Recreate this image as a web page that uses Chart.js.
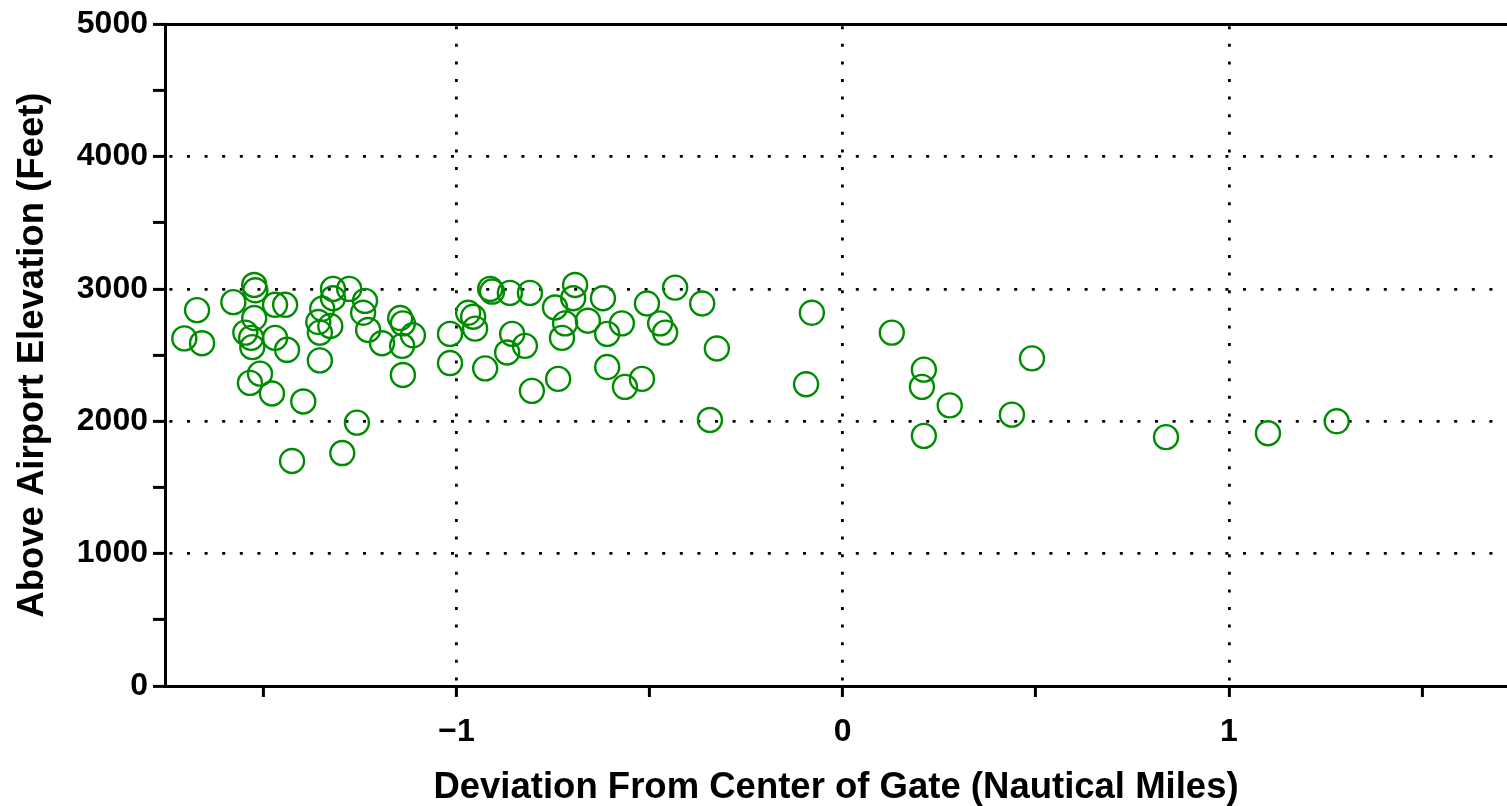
<!DOCTYPE html>
<html>
<head>
<meta charset="utf-8">
<script src="https://cdn.jsdelivr.net/npm/chart.js@4/dist/chart.umd.min.js"></script>
<style>
  html, body { margin: 0; padding: 0; background: #fff; overflow: hidden; }
  #wrap { width: 1507px; height: 806px; }
</style>
</head>
<body>
<div id="wrap"><canvas id="c"></canvas></div>
<script>
// deviation from gate centre (nautical miles)
const deviation = [
  -1.705, -1.672, -1.659, -1.578, -1.524, -1.521, -1.524, -1.547, -1.532, -1.529,
  -1.470, -1.444, -1.470, -1.439, -1.509, -1.535, -1.478, -1.397, -1.426,
  -1.320, -1.278, -1.348, -1.320, -1.358, -1.327, -1.354, -1.354, -1.237, -1.242,
  -1.229, -1.193, -1.146, -1.139, -1.113, -1.141, -1.139, -1.258, -1.296,
  -0.913, -0.908, -0.862, -0.810, -0.970, -0.957, -0.952, -1.017, -0.856, -0.869,
  -0.823, -1.017, -0.926, -0.805, -0.737, -0.745, -0.719, -0.727,
  -0.693, -0.698, -0.621, -0.660, -0.610, -0.572, -0.507, -0.473, -0.460, -0.434,
  -0.364, -0.326, -0.610, -0.564, -0.520,
  -0.344, -0.080, -0.095, 0.127, 0.210, 0.205, 0.277, 0.210, 0.490, 0.438,
  0.837, 1.101, 1.279
];
// height above airport elevation (feet)
const elevation = [
  2626, 2840, 2590, 2900, 3030, 2990, 2780, 2670, 2630, 2560,
  2880, 2880, 2630, 2540, 2360, 2290, 2210, 2150, 1700,
  3000, 3000, 2850, 2930, 2750, 2720, 2670, 2460, 2910, 2820,
  2690, 2590, 2780, 2740, 2650, 2570, 2350, 1990, 1760,
  3000, 2980, 2970, 2970, 2820, 2790, 2700, 2660, 2660, 2520,
  2570, 2440, 2400, 2230, 2320, 2860, 2740, 2630,
  3030, 2930, 2930, 2760, 2660, 2740, 2890, 2740, 2670, 3010,
  2890, 2550, 2410, 2260, 2320,
  2010, 2820, 2280, 2670, 2390, 2260, 2120, 1890, 2475, 2050,
  1880, 1910, 2000
];

const xTicks = [-1.5, -1, -0.5, 0, 0.5, 1, 1.5];
const xLabels = ['', '\u22121', '', '0', '', '1', ''];
const yTicks = [0, 500, 1000, 1500, 2000, 2500, 3000, 3500, 4000, 4500, 5000];
const yLabels = ['0', '', '1000', '', '2000', '', '3000', '', '4000', '', '5000'];

const FONT = 'Liberation Sans, Arial, Helvetica, sans-serif';
const GREEN = '#008c00';

const points = deviation.map((d, i) => ({ x: d, y: elevation[i] }));

new Chart(document.getElementById('c'), {
  type: 'scatter',
  data: {
    datasets: [{
      data: points,
      pointStyle: 'circle',
      pointRadius: 12,
      pointHoverRadius: 12,
      pointBorderWidth: 2.4,
      borderColor: GREEN,
      backgroundColor: 'rgba(0,0,0,0)'
    }]
  },
  options: {
    responsive: true,
    maintainAspectRatio: false,
    animation: false,
    events: [],
    layout: { autoPadding: false, padding: { top: 24, right: 0, bottom: 0, left: 0 } },
    plugins: { legend: { display: false }, tooltip: { enabled: false } },
    scales: {
      x: {
        type: 'linear',
        position: 'bottom',
        min: -1.755,
        max: 1.72,
        afterBuildTicks: s => { s.ticks = xTicks.map(v => ({ value: v })); },
        afterFit: s => { s.height = 120; s.paddingRight = 0; },
        border: { display: true, color: '#000', width: 3, dash: [3, 14.6], dashOffset: 15.6 },
        grid: {
          color: c => (c.tick && Number.isInteger(c.tick.value)) ? '#000' : 'rgba(0,0,0,0)',
          lineWidth: 2.8,
          drawTicks: true,
          tickLength: 11,
          tickColor: '#000',
          tickWidth: 3,
          tickBorderDash: []
        },
        ticks: {
          autoSkip: false,
          maxRotation: 0,
          padding: 16,
          color: '#000',
          font: { family: FONT, weight: 'bold', size: 32 },
          callback: (v, i) => xLabels[i]
        },
        title: {
          display: true,
          text: 'Deviation From Center of Gate (Nautical Miles)',
          color: '#000',
          font: { family: FONT, weight: 'bold', size: 36.5, lineHeight: 1.0 },
          padding: { top: 0, bottom: 0 }
        }
      },
      xTop: {
        type: 'linear',
        position: 'top',
        min: -1.755,
        max: 1.72,
        afterBuildTicks: s => { s.ticks = []; },
        afterFit: s => { s.height = 0; s.paddingLeft = 0; s.paddingRight = 0; },
        border: { display: true, color: '#000', width: 3 },
        grid: { display: false, drawTicks: false },
        ticks: { display: false }
      },
      y: {
        type: 'linear',
        min: 0,
        max: 5000,
        afterBuildTicks: s => { s.ticks = yTicks.map(v => ({ value: v })); },
        afterFit: s => { s.width = 165; },
        border: { display: true, color: '#000', width: 3, dash: [3, 14.6], dashOffset: 15.2 },
        grid: {
          color: c => (c.tick && c.tick.value % 1000 === 0 && c.tick.value > 0 && c.tick.value < 5000) ? '#000' : 'rgba(0,0,0,0)',
          lineWidth: 2.8,
          drawTicks: true,
          tickLength: 12,
          tickColor: '#000',
          tickWidth: 3,
          tickBorderDash: []
        },
        ticks: {
          autoSkip: false,
          padding: 5,
          color: '#000',
          font: { family: FONT, weight: 'bold', size: 32 },
          callback: (v, i) => yLabels[i]
        },
        title: {
          display: true,
          text: 'Above Airport Elevation (Feet)',
          color: '#000',
          font: { family: FONT, weight: 'bold', size: 36.5, lineHeight: 1.2 },
          padding: { top: 11, bottom: 0 }
        }
      }
    }
  }
});
</script>
</body>
</html>
